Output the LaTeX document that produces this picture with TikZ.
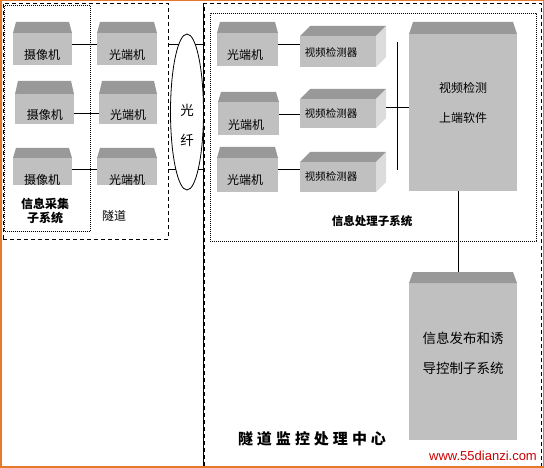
\documentclass[tikz,border=0pt]{standalone}
\usepackage{fontspec}
\setmainfont{Noto Sans CJK SC}
\newfontfamily\urlfont{Liberation Sans}
\usetikzlibrary{fit,calc,shapes.geometric}
\definecolor{frontgray}{HTML}{C0C0C0}
\definecolor{topgray}{HTML}{999999}
\definecolor{sidegray}{HTML}{DCDCDC}
\definecolor{frameorange}{HTML}{E8782A}
\definecolor{urlred}{HTML}{CC0000}
\tikzset{
 front/.style={fill=frontgray, inner sep=0pt, outer sep=0pt},
 topf/.style={fill=topgray},
 sidef/.style={fill=sidegray},
 boxtext/.style={font=\fontsize{12}{14}\selectfont, inner sep=0pt},
 dettext/.style={font=\fontsize{10.5}{12}\selectfont, inner sep=0pt},
 bigtext/.style={font=\fontsize{13.5}{16}\selectfont, inner sep=0pt},
 link/.style={line width=0.9pt},
 dashbox/.style={draw, line width=0.8pt, dash pattern=on 4pt off 3pt, inner sep=0pt},
 dotbox/.style={draw, line width=0.8pt, dash pattern=on 0.8pt off 1.2pt, inner sep=0pt},
}
\newcommand\gbox[7]{%
 \coordinate (#1-a) at (#2,#4);
 \coordinate (#1-b) at (#5,#6);
 \node[front, fit=(#1-a)(#1-b)] (#1) {};
 \fill[topf] (#1.north west) -- ($(#1.north west)+(#7,{#3-#4})$) -- ($(#1.north east)+(-#7,{#3-#4})$) -- (#1.north east) -- cycle;
}
\newcommand\dbox[6]{%
 \coordinate (#1-a) at (#2,#3);
 \coordinate (#1-b) at (#4,#5);
 \node[front, fit=(#1-a)(#1-b)] (#1) {};
 \fill[topf] (#1.north west) -- ++(#6,-#6) -- ($(#1.north east)+(#6,-#6)$) -- (#1.north east) -- cycle;
 \fill[sidef] (#1.north east) -- ++(#6,-#6) -- ($(#1.south east)+(#6,-#6)$) -- (#1.south east) -- cycle;
}
\begin{document}
\begin{tikzpicture}[x=1pt,y=-1pt]
\useasboundingbox (0,0) rectangle (544,468);
% frames
\node[dashbox, fit={(3,3)(168,239)}] (tunnel) {};
\node[dotbox, fit={(4.5,5)(90,231)}] (collect) {};
\node[dashbox, fit={(204,3)(541,466)}] (pc) {};
\draw[link] (pc.north west) -- (pc.south west);
\node[dotbox, fit={(210,13)(536,241)}] (proc) {};
% boxes
\gbox{cam1}{13}{22}{33}{72}{65}{3}
\gbox{cam2}{15}{81}{94}{74}{124}{3}
\gbox{cam3}{13}{148}{158}{72}{185}{3}
\gbox{opt1}{97}{22}{33}{157}{65}{3}
\gbox{opt2}{99}{81}{94}{157}{124}{3}
\gbox{opt3}{97}{148}{158}{157}{185}{3}
\gbox{popt1}{217}{22}{33}{278}{66}{3}
\gbox{popt2}{218}{92}{102}{279}{135}{3}
\gbox{popt3}{217}{147}{158}{278}{192}{3}
\dbox{det1}{300}{36}{376}{67}{10}
\dbox{det2}{300}{99}{376}{128}{10}
\dbox{det3}{300}{162}{376}{192}{10}
\gbox{soft}{409}{22}{34}{517}{191}{4}
\gbox{info}{409}{272}{283}{517}{440}{4}
% box texts
\node[boxtext] (cam1t) at (42,55) {摄像机};
\node[boxtext] (cam2t) at (45,115) {摄像机};
\node[boxtext] (cam3t) at (42,180) {摄像机};
\node[boxtext] (opt1t) at (127,55) {光端机};
\node[boxtext] (opt2t) at (128,115) {光端机};
\node[boxtext] (opt3t) at (127,180) {光端机};
\node[boxtext] (popt1t) at (245,55) {光端机};
\node[boxtext] (popt2t) at (246,125) {光端机};
\node[boxtext] (popt3t) at (245,180) {光端机};
\node[dettext] (det1t) at (331,52) {视频检测器};
\node[dettext] (det2t) at (331,113) {视频检测器};
\node[dettext] (det3t) at (331,176) {视频检测器};
\node[boxtext] (soft1) at (463,88) {视频检测};
\node[boxtext] (soft2) at (463,118) {上端软件};
\node[bigtext] (info1) at (463,338) {信息发布和诱};
\node[bigtext] (info2) at (463,368) {导控制子系统};
% connectors
\draw[link] (cam1.east|-0,44) -- (opt1.west|-0,44);
\draw[link] (cam2.east|-0,113) -- (opt2.west|-0,113);
\draw[link] (cam3.east|-0,169) -- (opt3.west|-0,169);
\draw[link] (tunnel.east|-0,44) -- (pc.west|-0,44);
\draw[link] (tunnel.east|-0,169) -- (pc.west|-0,169);
\node[draw, ellipse, line width=0.8pt, fill=white, minimum width=33pt, minimum height=156pt, inner sep=0pt] (fiber) at (187,112) {};
\node[bigtext] (fiber1) at (187,110) {光};
\node[bigtext] (fiber2) at (187,140) {纤};
\draw[link] (popt1.east|-0,44) -- (det1.west|-0,44);
\draw[link] (popt2.east|-0,114) -- (det2.west|-0,114);
\draw[link] (popt3.east|-0,169) -- (det3.west|-0,169);
\coordinate (bustop) at (397,42);
\coordinate (busbot) at (397,170);
\draw[link] (bustop) -- (busbot);
\coordinate (det2side) at ($(det2.east)+(10,0)$);
\draw[link] (det2side|-0,107) -- (soft.west|-0,107);
\coordinate (infotop) at ($(info.north)+(-5,-11)$);
\draw[link] (soft.south-|infotop) -- (infotop);
% labels
\node[font=\bfseries\fontsize{12}{14}\selectfont, align=center, inner sep=0pt] (collectlbl) at (45,211) {信息采集\\子系统};
\node[boxtext] (tunnellbl) at (114,216) {隧道};
\node[font=\bfseries\fontsize{11.5}{14}\selectfont, inner sep=0pt] (proclbl) at (372,221) {信息处理子系统};
\node[font=\bfseries\fontsize{15}{18}\selectfont, inner sep=0pt] (pclbl) at (312,439) {隧\hspace{4pt}道\hspace{4pt}监\hspace{4pt}控\hspace{4pt}处\hspace{4pt}理\hspace{4pt}中\hspace{4pt}心};
\node[font=\urlfont\fontsize{13}{15}\selectfont, text=urlred, inner sep=0pt] (url) at (483,456) {www.55dianzi.com};
% outer frame
\draw[frameorange, line width=1.5pt] (0.75,0.75) rectangle (543.25,466.75);
\end{tikzpicture}
\end{document}
